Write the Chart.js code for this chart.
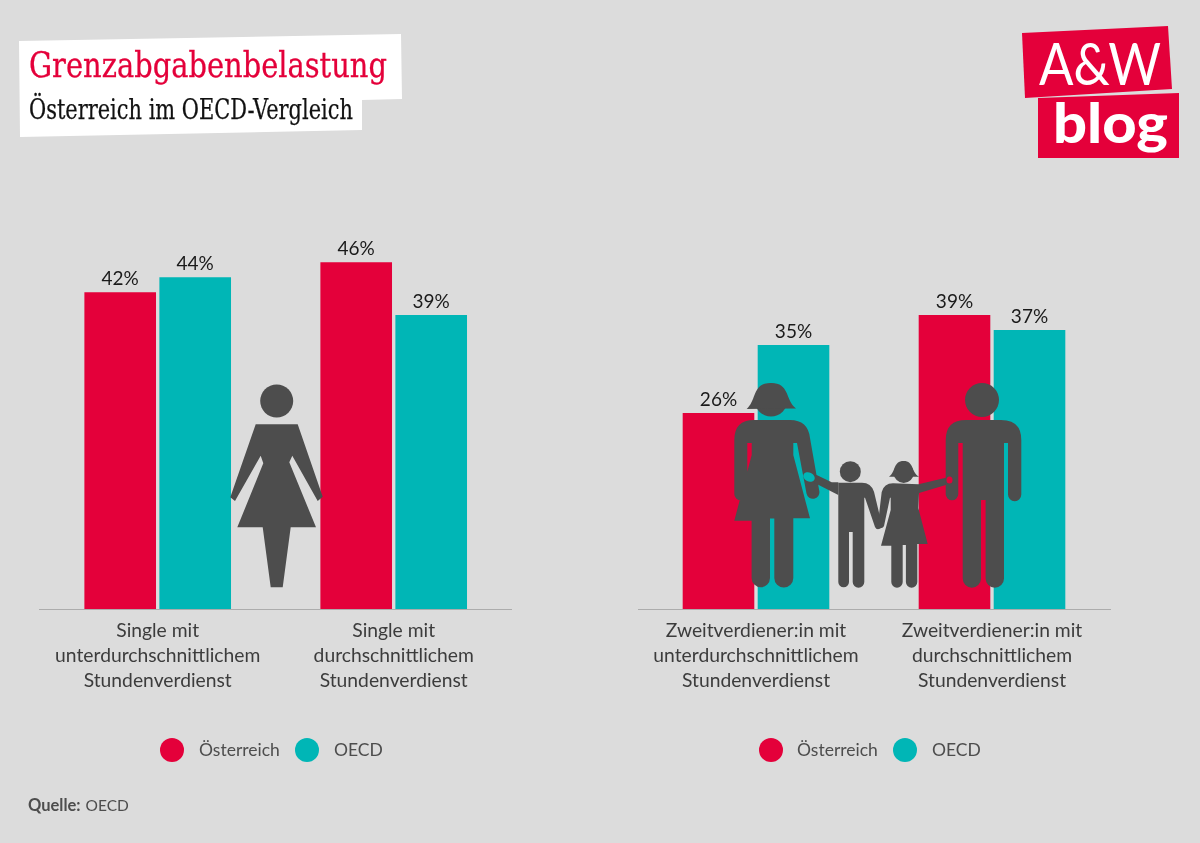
<!DOCTYPE html>
<html lang="de">
<head>
<meta charset="utf-8">
<title>Grenzabgabenbelastung</title>
<script src="https://cdn.jsdelivr.net/npm/chart.js@4/dist/chart.umd.min.js"></script>
<style>
  html, body { margin: 0; padding: 0; }
  body { width: 1200px; height: 843px; background: #dcdcdc; position: relative; overflow: hidden; font-family: Lato, sans-serif; }
  canvas { position: absolute; top: 0; }
  #leftChart { left: 0; }
  #rightChart { left: 600px; }
  #overlay { position: absolute; left: 0; top: 0; pointer-events: none; }
  .legend-dot { position: absolute; top: 738px; width: 24px; height: 24px; border-radius: 50%; }
  .legend-text { position: absolute; top: 738px; line-height: 24px; font-size: 17.5px; color: #4d4d4d; white-space: nowrap; }
  #source { position: absolute; left: 28px; top: 795px; font-size: 15.5px; line-height: 20px; color: #4d4d4d; }
  #source b { font-size: 16.5px; margin-right: 1px; }
</style>
</head>
<body>
<canvas id="leftChart" width="600" height="843"></canvas>
<canvas id="rightChart" width="600" height="843"></canvas>

<svg id="overlay" width="1200" height="843" viewBox="0 0 1200 843">
  <!-- title block -->
  <polygon points="19,41 401,34 402,99 362,100 362,130 20,137" fill="#ffffff"/>
  <text x="29" y="77" font-family="'DejaVu Serif'" font-size="36" fill="#e4003a" stroke="#e4003a" stroke-width="0.3" textLength="358" lengthAdjust="spacingAndGlyphs">Grenzabgabenbelastung</text>
  <text x="29" y="119" font-family="'DejaVu Serif'" font-size="28" fill="#111111" stroke="#111111" stroke-width="0.25" textLength="324" lengthAdjust="spacingAndGlyphs">Österreich im OECD-Vergleich</text>

  <!-- logo -->
  <polygon points="1022,33 1168,26 1172,89 1025,98" fill="#e4003a"/>
  <polygon points="1038,98 1179,93 1179,158 1038,158" fill="#e4003a"/>
  <text x="1039" y="85" font-family="Lato" font-weight="400" font-size="58" fill="#ffffff" textLength="122" lengthAdjust="spacingAndGlyphs">A&amp;W</text>
  <text x="1053" y="143" font-family="Lato" font-weight="900" font-size="56" fill="#ffffff" textLength="115" lengthAdjust="spacingAndGlyphs">blog</text>

  <g fill="#4d4d4d">
    <!-- single woman -->
    <circle cx="276.7" cy="401" r="16.5"/>
    <path d="M255.7 424.3 H297.7 L322.7 496.7 L317.7 501 L292.3 455.7 L289.3 462.3 L316 527.3 H290.7 L282.7 587.3 H270.7 L262.7 527.3 H237.3 L263.3 463.3 L260.7 455.7 L235 501 L230.3 497.3 Z"/>

    <!-- mother -->
    <circle cx="771" cy="400" r="16.5"/>
    <path d="M746.7 409 C757 400 752 383 771 383 C790 383 785 400 796 408.5 Z"/>
    <path d="M751.7 443 H747.3 V494 a6.5 6.5 0 0 1 -13 0 V440 Q734.3 420 754 420 H790 Q808 420 810 438 L819.3 491 a6.5 6.5 0 0 1 -12.8 2.5 L797 443 H793.3 V455 L810 518.3 H793.3 V578 a9.5 9.5 0 0 1 -19 0 V518.5 H770 V578 a9.2 9.2 0 0 1 -18.4 0 V520.7 H734.3 L751.7 455 Z"/>
    <polygon points="805,478 816.7,475 831.7,482.3 838.3,482.3 838.3,495"/>
    <ellipse cx="809" cy="477" rx="6" ry="4.5" fill="#00b6b6" transform="rotate(25 809 477)"/>

    <!-- boy -->
    <circle cx="850.3" cy="471.7" r="10.5"/>
    <path d="M838.3 482.7 H862 Q871 482.7 874 491.7 L881.7 524 a3.5 3.5 0 0 1 -6.7 3 L865 497.7 H864.3 V582 a5.7 5.7 0 0 1 -11.6 0 V532 H849 V582 a5.3 5.3 0 0 1 -10.7 0 Z"/>

    <!-- girl -->
    <circle cx="903.7" cy="473" r="10"/>
    <path d="M889 476.7 C896 472 893 461 903.7 461 C914 461 911 472 919 476.7 Z"/>
    <path d="M918.5 484.3 L950 476.7 L951.7 483.3 L919 493 L918.3 508 L927.7 544 H917.3 V582 a5.7 5.7 0 0 1 -11.4 0 V545 H902.7 V582 a5.7 5.7 0 0 1 -11.4 0 V545.7 H881 L890.7 510 V497.7 H890 L884 526 a3.2 3.2 0 0 1 -6.2 -1 L881.7 492 Q884 483.3 893 483.3 Z"/>

    <!-- father -->
    <circle cx="982" cy="400" r="17"/>
    <path d="M962.7 443 H958.3 V494 a6.3 6.3 0 0 1 -12.6 0 V440 Q945.7 420 966 420 H1001 Q1021.3 420 1021.3 440 V494.5 a6.6 6.6 0 0 1 -13.3 0 V443 H1004 V578.5 a9.2 9.2 0 0 1 -18.4 0 V500 H981 V578.5 a9.1 9.1 0 0 1 -18.3 0 Z"/>
    <ellipse cx="949.5" cy="480" rx="3" ry="3.5" fill="#e4003a"/>
  </g>
</svg>

<div id="source"><b>Quelle:</b> OECD</div>

<script>
const seriesNames = ["Österreich", "OECD"];
const seriesColors = ["#e4003a", "#00b6b6"];

const singleCategories = [
  ["Single mit", "unterdurchschnittlichem", "Stundenverdienst"],
  ["Single mit", "durchschnittlichem", "Stundenverdienst"],
];
const singleAustria = [42, 46];
const singleOecd = [44, 39];

const secondCategories = [
  ["Zweitverdiener:in mit", "unterdurchschnittlichem", "Stundenverdienst"],
  ["Zweitverdiener:in mit", "durchschnittlichem", "Stundenverdienst"],
];
const secondAustria = [26, 39];
const secondOecd = [35, 37];

// labels above the bars, no datalabels plugin available offline
const barValueLabels = {
  id: "barValueLabels",
  afterDatasetsDraw(chart) {
    const ctx = chart.ctx;
    ctx.save();
    ctx.font = "19px Lato";
    ctx.fillStyle = "#1a1a1a";
    ctx.textAlign = "center";
    ctx.textBaseline = "alphabetic";
    chart.data.datasets.forEach((ds, i) => {
      chart.getDatasetMeta(i).data.forEach((bar, j) => {
        ctx.fillText(ds.data[j] + "%", bar.x, bar.y - 7);
      });
    });
    ctx.restore();
  },
};

const createBarChart = (id, categories, austria, oecd, padLeft, padRight) => {
  return new Chart(document.getElementById(id), {
    type: "bar",
    data: {
      labels: categories,
      datasets: [
        { label: seriesNames[0], data: austria, backgroundColor: seriesColors[0] },
        { label: seriesNames[1], data: oecd, backgroundColor: seriesColors[1] },
      ],
    },
    options: {
      responsive: false,
      animation: false,
      devicePixelRatio: 1,
      categoryPercentage: 0.6356,
      barPercentage: 0.955,
      layout: { padding: { left: padLeft, right: padRight, top: 232, bottom: 0 } },
      plugins: { legend: { display: false }, tooltip: { enabled: false } },
      scales: {
        x: {
          grid: { display: false, drawTicks: false },
          border: { display: true, color: "#acacac", width: 1 },
          afterFit: (scale) => { scale.height = 234; },
          ticks: {
            color: "#3c3c3c",
            font: { family: "Lato", size: 19.3, lineHeight: 1.295 },
            padding: 9,
            autoSkip: false,
            maxRotation: 0,
            minRotation: 0,
          },
        },
        y: { display: false, min: 0, max: 50 },
      },
    },
    plugins: [barValueLabels],
  });
};

createBarChart("leftChart", singleCategories, singleAustria, singleOecd, 39.7, 88.3);
createBarChart("rightChart", secondCategories, secondAustria, secondOecd, 38, 90);

// legend as html so the gaps can follow the picture
const legendAt = (dotLefts, textLefts) => {
  seriesNames.forEach((name, i) => {
    const dot = document.createElement("div");
    dot.className = "legend-dot";
    dot.style.left = dotLefts[i] + "px";
    dot.style.background = seriesColors[i];
    const text = document.createElement("div");
    text.className = "legend-text";
    text.style.left = textLefts[i] + "px";
    text.textContent = name;
    document.body.appendChild(dot);
    document.body.appendChild(text);
  });
};
legendAt([160, 295], [199, 334]);
legendAt([759, 893], [797, 932]);
</script>
</body>
</html>
